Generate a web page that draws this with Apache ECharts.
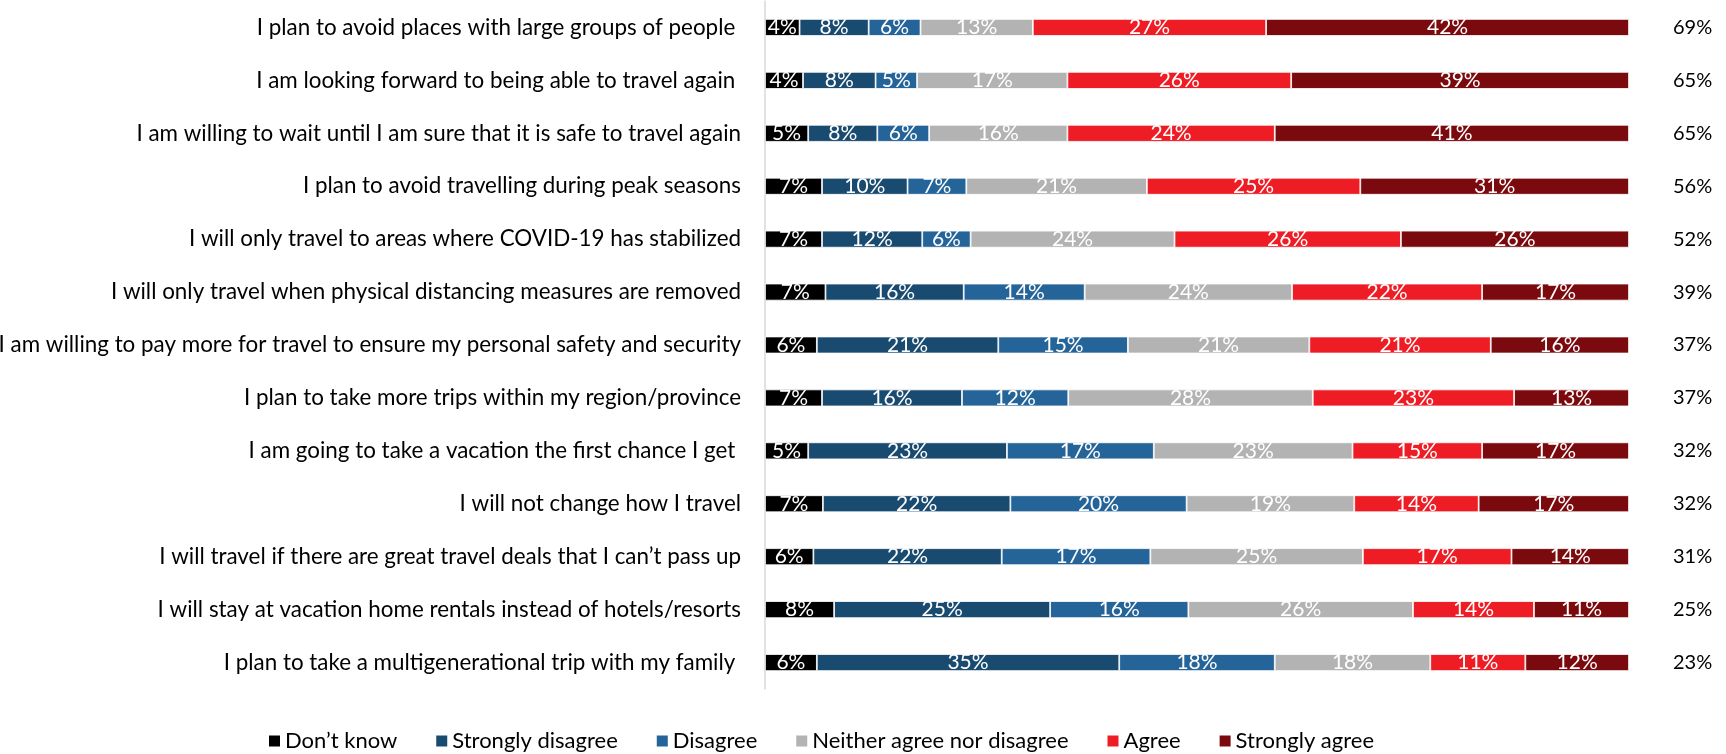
<!DOCTYPE html>
<html>
<head>
<meta charset="utf-8">
<script src="https://cdn.jsdelivr.net/npm/echarts@6/dist/echarts.min.js"></script>
<style>
html,body{margin:0;padding:0;background:#fff;}
#chart{width:1726px;height:754px;}
</style>
</head>
<body>
<div id="chart"></div>
<script>
const categories = [
  "I plan to avoid places with large groups of people ",
  "I am looking forward to being able to travel again ",
  "I am willing to wait until I am sure that it is safe to travel again",
  "I plan to avoid travelling during peak seasons",
  "I will only travel to areas where COVID-19 has stabilized",
  "I will only travel when physical distancing measures are removed",
  "I am willing to pay more for travel to ensure my personal safety and security",
  "I plan to take more trips within my region/province",
  "I am going to take a vacation the first chance I get ",
  "I will not change how I travel",
  "I will travel if there are great travel deals that I can\u2019t pass up",
  "I will stay at vacation home rentals instead of hotels/resorts",
  "I plan to take a multigenerational trip with my family "
];
const dontKnow          = [4, 4.4, 5, 6.6, 6.6, 7, 6, 6.6, 5, 6.7, 5.6, 8, 6];
const stronglyDisagree  = [8, 8.4, 8, 9.9, 11.6, 16, 21, 16.2, 23, 21.7, 21.8, 25, 35];
const disagree          = [6, 4.8, 6, 6.8, 5.6, 14, 15, 12.3, 17, 20.4, 17.2, 16, 18];
const neither           = [13, 17.4, 16, 20.9, 23.6, 24, 21, 28.3, 23, 19.4, 24.6, 26, 18];
const agree             = [27, 25.9, 24, 24.7, 26.2, 22, 21, 23.3, 15, 14.4, 17.2, 14, 11];
const stronglyAgree     = [42, 39.1, 41, 31.1, 26.4, 17, 16, 13.3, 17, 17.4, 13.6, 11, 12];
const totalAgree        = [69, 65, 65, 56, 52, 39, 37, 37, 32, 32, 31, 25, 23];

const seriesNames = ["Don\u2019t know", "Strongly disagree", "Disagree", "Neither agree nor disagree", "Agree", "Strongly agree"];
const seriesData = [dontKnow, stronglyDisagree, disagree, neither, agree, stronglyAgree];
const colors = ["#000000", "#194a6f", "#246499", "#b3b3b3", "#ee1c25", "#7b0a0e"];

const FONT = "Lato";
const chart = echarts.init(document.getElementById('chart'), null, {renderer: 'canvas'});

const series = seriesNames.map((name, i) => ({
  name: name,
  type: 'bar',
  stack: 'total',
  barWidth: 17,
  data: seriesData[i],
  itemStyle: { color: colors[i], borderColor: '#ffffff', borderWidth: 0.8 },
  label: {
    show: true,
    position: 'inside',
    color: '#ffffff',
    fontFamily: FONT,
    fontSize: 21,
    formatter: p => Math.round(p.value) + '%'
  },
  emphasis: { disabled: true }
}));

chart.setOption({
  animation: false,
  color: colors,
  grid: { left: 765, right: 97, top: 1, bottom: 65, containLabel: false, outerBoundsMode: 'none' },
  xAxis: { type: 'value', min: 0, max: 100, show: false },
  yAxis: [
    {
      type: 'category',
      data: categories,
      inverse: true,
      axisLine: { show: true, lineStyle: { color: '#d9d9d9', width: 1.5 } },
      axisTick: { show: false },
      axisLabel: { color: '#000000', fontFamily: FONT, fontSize: 22.4, margin: 24 }
    },
    {
      type: 'category',
      data: totalAgree.map(v => v + '%'),
      inverse: true,
      position: 'right',
      axisLine: { show: false },
      axisTick: { show: false },
      axisLabel: { color: '#000000', fontFamily: FONT, fontSize: 20, margin: 44, align: 'left' }
    }
  ],
  legend: {
    data: seriesNames,
    left: 262,
    top: 725,
    icon: 'rect',
    itemWidth: 13,
    itemHeight: 13,
    itemGap: 37,
    textStyle: { color: '#000000', fontFamily: FONT, fontSize: 22, padding: [0, 0, 0, -1] },
    selectedMode: false
  },
  series: series
});
</script>
</body>
</html>
